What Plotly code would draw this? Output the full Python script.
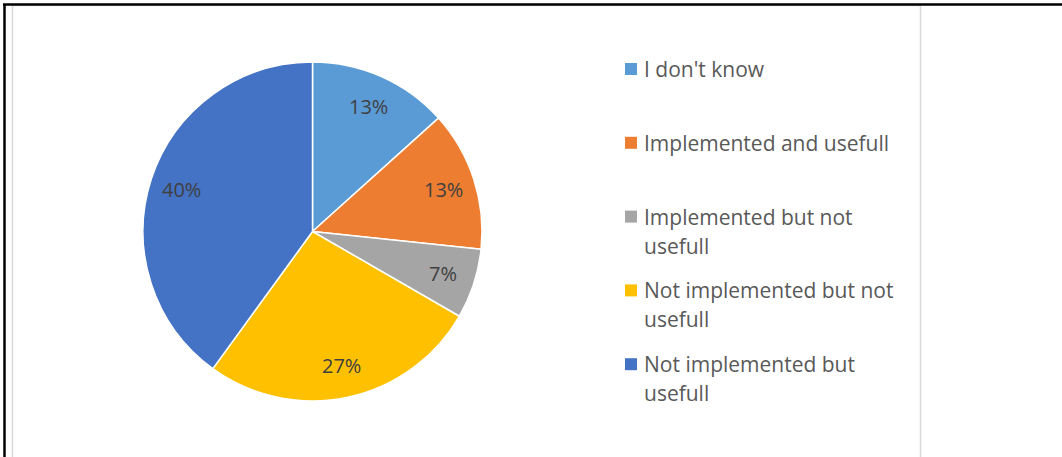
import math
import plotly.graph_objects as go

categories = ["I don't know", "Implemented and usefull", "Implemented but not usefull",
              "Not implemented but not usefull", "Not implemented but usefull"]
counts = [2, 2, 1, 4, 6]
pct_labels = ["13%", "13%", "7%", "27%", "40%"]
legend_lines = [["I don't know"], ["Implemented and usefull"], ["Implemented but not", "usefull"],
                ["Not implemented but not", "usefull"], ["Not implemented but", "usefull"]]
colors = ["#5B9BD5", "#ED7D31", "#A5A5A5", "#FFC000", "#4472C4"]

W, H = 1062, 457
cx, cy, R = 312.5, 231.5, 169.5

def px(x):
    return x / W

def py(y):
    return 1 - y / H

fig = go.Figure()
fig.add_trace(go.Pie(
    labels=categories, values=counts, sort=False, direction="clockwise", rotation=0,
    marker=dict(colors=colors, line=dict(color="white", width=1.5)),
    textinfo="none", hoverinfo="label+percent", showlegend=False,
    domain=dict(x=[px(cx - R), px(cx + R)], y=[py(cy + R), py(cy - R)]),
))

annotations = []
shapes = []
total = sum(counts)
acc = 0
for v, lab in zip(counts, pct_labels):
    mid = (acc + v / 2) / total * 2 * math.pi
    acc += v
    r = 0.81 * R
    x = cx + r * math.sin(mid)
    y = cy - r * math.cos(mid)
    annotations.append(dict(x=px(x), y=py(y), xref="paper", yref="paper", text=lab,
                            showarrow=False, xanchor="center", yanchor="middle",
                            font=dict(family="Open Sans", size=20, color="#404040")))

# legend (manual, fixed item pitch)
leg_y0, leg_pitch, line_h = 69, 73.8, 29
for i, (lines, c) in enumerate(zip(legend_lines, colors)):
    y0 = leg_y0 + i * leg_pitch
    shapes.append(dict(type="rect", xref="paper", yref="paper",
                       x0=px(625), x1=px(637), y0=py(y0 - 6), y1=py(y0 + 6),
                       fillcolor=c, line=dict(width=0)))
    for j, t in enumerate(lines):
        annotations.append(dict(x=px(642), y=py(y0 + j * line_h), xref="paper", yref="paper",
                                text=t, showarrow=False, xanchor="left", yanchor="middle",
                                font=dict(family="Open Sans", size=21, color="#595959")))

# borders
shapes += [
    dict(type="rect", xref="paper", yref="paper", x0=px(12.5), x1=px(920.5), y0=py(470), y1=py(5.5),
         line=dict(color="#D9D9D9", width=1.5), fillcolor="rgba(0,0,0,0)"),
    dict(type="line", xref="paper", yref="paper", x0=px(3), x1=px(1062), y0=py(4.5), y1=py(4.5),
         line=dict(color="black", width=2.5)),
    dict(type="line", xref="paper", yref="paper", x0=px(4.5), x1=px(4.5), y0=py(4), y1=py(460),
         line=dict(color="black", width=2.5)),
]

fig.update_layout(width=W, height=H, margin=dict(l=0, r=0, t=0, b=0),
                  paper_bgcolor="white", plot_bgcolor="white",
                  annotations=annotations, shapes=shapes)
fig.write_html("out.html", config={"displayModeBar": False},
               post_script="document.body.style.margin='0';document.body.style.overflow='hidden';")
